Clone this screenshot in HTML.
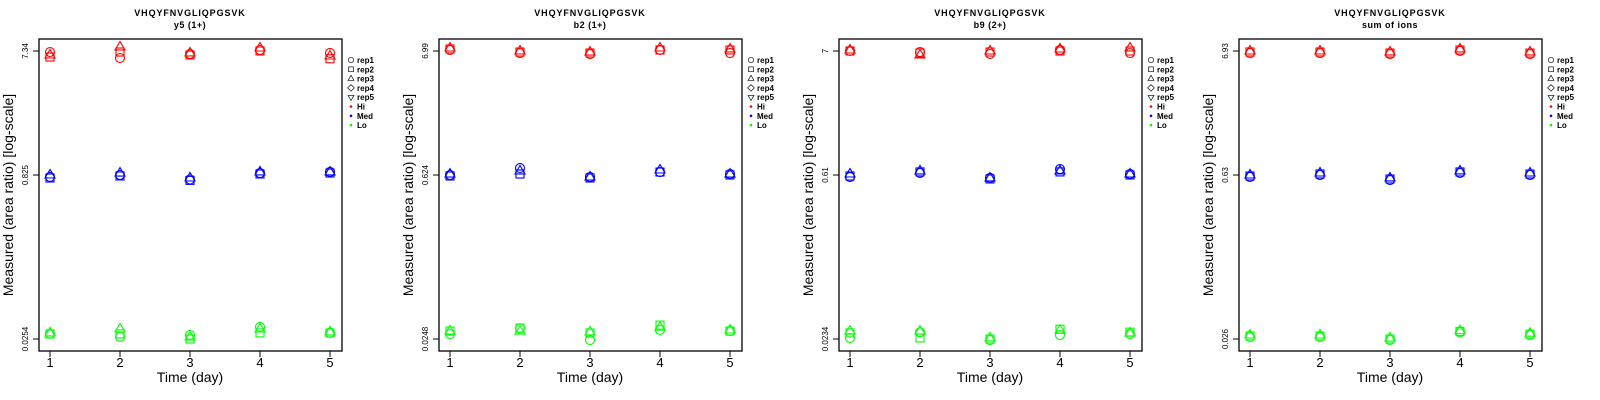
<!DOCTYPE html>
<html><head><meta charset="utf-8"><style>
body{margin:0;background:#fff;}
svg{display:block;font-family:"Liberation Sans",Arial,sans-serif;}
</style></head><body>
<svg id="chart" width="1600" height="400" xmlns="http://www.w3.org/2000/svg"></svg>
<script>
const days = [1,2,3,4,5];
const reps = ["rep1","rep2","rep3","rep4","rep5"];
const levels = ["Hi","Med","Lo"];
const levelColors = ["#ff0000","#0000ff","#00ff00"];
const panelTitles = ["y5 (1+)","b2 (1+)","b9 (2+)","sum of ions"];
const peptide = "VHQYFNVGLIQPGSVK";
const tickValues = [[7.34,0.825,0.0254],[6.99,0.624,0.0248],[7,0.61,0.0234],[6.93,0.63,0.026]];
const tickLabels = [["7.34","0.825","0.0254"],["6.99","0.624","0.0248"],["7","0.61","0.0234"],["6.93","0.63","0.026"]];
// data[panel][level][rep][day]  (rep1, rep2, rep3 measured)
const p1Hi = [[7.21,6.48,6.96,7.47,7.09],[6.60,7.21,6.84,7.34,6.40],[6.84,7.88,7.09,7.74,6.72]];
const p1Med = [[0.791,0.825,0.750,0.854,0.870],[0.774,0.808,0.736,0.840,0.854],[0.825,0.854,0.774,0.870,0.870]];
const p1Lo = [[0.0283,0.0265,0.0277,0.0328,0.0289],[0.0283,0.0283,0.0254,0.0289,0.0289],[0.0289,0.0314,0.0265,0.0314,0.0295]];
const p2Hi = [[7.13,6.72,6.59,7.13,6.72],[7.27,6.85,6.72,7.13,7.13],[7.41,6.99,6.85,7.41,7.27]];
const p2Med = [[0.624,0.714,0.600,0.661,0.636],[0.612,0.636,0.588,0.661,0.624],[0.636,0.675,0.600,0.688,0.636]];
const p2Lo = [[0.0273,0.0307,0.0243,0.0296,0.0290],[0.0290,0.0307,0.0279,0.0326,0.0290],[0.0290,0.0290,0.0285,0.0313,0.0296]];
const p3Hi = [[7.00,6.86,6.60,7.14,6.73],[7.00,6.73,6.86,7.00,7.00],[7.14,6.47,7.00,7.28,7.43]];
const p3Med = [[0.586,0.635,0.575,0.686,0.622],[0.598,0.648,0.564,0.648,0.610],[0.622,0.661,0.575,0.661,0.622]];
const p3Lo = [[0.0239,0.0268,0.0229,0.0253,0.0258],[0.0264,0.0239,0.0234,0.0284,0.0268],[0.0274,0.0274,0.0239,0.0279,0.0264]];
const p4Hi = [[6.66,6.66,6.53,6.93,6.53],[6.80,6.80,6.66,7.07,6.66],[6.93,6.93,6.80,7.21,6.80]];
const p4Med = [[0.606,0.630,0.571,0.655,0.630],[0.618,0.642,0.583,0.668,0.642],[0.630,0.655,0.595,0.681,0.655]];
const p4Lo = [[0.0270,0.0270,0.0255,0.0296,0.0281],[0.0276,0.0276,0.0260,0.0301,0.0286],[0.0281,0.0281,0.0265,0.0306,0.0291]];
const panelData = [[p1Hi,p1Med,p1Lo],[p2Hi,p2Med,p2Lo],[p3Hi,p3Med,p3Lo],[p4Hi,p4Med,p4Lo]];

const NS="http://www.w3.org/2000/svg";
const svg=document.getElementById("chart");
function mk(tag,attrs,parent,text){const e=document.createElementNS(NS,tag);for(const k in attrs)e.setAttribute(k,attrs[k]);if(text!==undefined)e.textContent=text;(parent||svg).appendChild(e);return e;}
const BOX={l:39,r:342,t:39,b:351};
const TICKPX=[51,175,339];
function xScale(d){return 50+(d-1)*70;}
function makeY(tv){
  return function(v){
    const lv=Math.log(v),l0=Math.log(tv[0]),l1=Math.log(tv[1]),l2=Math.log(tv[2]);
    if(lv>=l1) return TICKPX[1]+(lv-l1)/(l0-l1)*(TICKPX[0]-TICKPX[1]);
    return TICKPX[1]+(lv-l1)/(l2-l1)*(TICKPX[2]-TICKPX[1]);
  };
}
function marker(g,shape,x,y,color){
  const s={fill:"none",stroke:color,"stroke-width":1.1};
  let e;
  if(shape===0) e=mk("circle",Object.assign({cx:x,cy:y,r:4.5},s),g);
  else if(shape===1) e=mk("rect",Object.assign({x:x-4,y:y-4,width:8,height:8},s),g);
  else if(shape===2) e=mk("polygon",Object.assign({points:`${x},${y-5.5} ${x-5},${y+3} ${x+5},${y+3}`},s),g);
  else if(shape===3) e=mk("polygon",Object.assign({points:`${x},${y-5.5} ${x+5.5},${y} ${x},${y+5.5} ${x-5.5},${y}`},s),g);
  else e=mk("polygon",Object.assign({points:`${x},${y+5.5} ${x-5},${y-3} ${x+5},${y-3}`},s),g);
  return e;
}
panelTitles.forEach((title,p)=>{
  const g=mk("g",{transform:`translate(${p*400},0)`});
  
  
  const yS=makeY(tickValues[p]);
  let t=mk("text",{x:190,y:16,"text-anchor":"middle","font-size":9,"font-weight":"bold","letter-spacing":"0.9"},g,peptide);
  
  
  t=mk("text",{x:190,y:28,"text-anchor":"middle","font-size":9,"font-weight":"bold","letter-spacing":"0.5"},g,title);
  
  
  const box=mk("rect",{x:BOX.l,y:BOX.t,width:BOX.r-BOX.l,height:BOX.b-BOX.t,fill:"none",stroke:"#000","stroke-width":1.3},g);
  
  
  days.forEach(d=>{
    const x=xScale(d);
    mk("line",{x1:x,x2:x,y1:BOX.b,y2:BOX.b+6,stroke:"#000"},g);
    const tl=mk("text",{x:x,y:367,"text-anchor":"middle","font-size":13},g,String(d));
    
    
  });
  tickValues[p].forEach((v,i)=>{
    const y=yS(v);
    mk("line",{x1:BOX.l-6,x2:BOX.l,y1:y,y2:y,stroke:"#000"},g);
    const tl=mk("text",{x:0,y:0,"text-anchor":"middle","font-size":8,transform:`translate(28,${y}) rotate(-90)`},g,tickLabels[p][i]);
    
    
  });
  const xt=mk("text",{x:190,y:382,"text-anchor":"middle","font-size":14},g,"Time (day)");
  
  
  const yt=mk("text",{x:0,y:0,"text-anchor":"middle","font-size":14,transform:"translate(13,195) rotate(-90)"},g,"Measured (area ratio) [log-scale]");
  
  
  levels.forEach((lv,li)=>{
    panelData[p][li].forEach((row,ri)=>{
      row.forEach((v,di)=>{
        const m=marker(g,ri,xScale(days[di]),yS(v),levelColors[li]);
        
        
      });
    });
  });
  const lg=mk("g",{},g);
  
  
  reps.forEach((r,i)=>{
    const y=60+i*9.3;
    const m=marker(lg,i,351,y,"#000");
    m.setAttribute("transform",`translate(351,${y}) scale(0.6) translate(-351,${-y})`);
    const tx=mk("text",{x:357,y:y+3,"font-size":8,"font-weight":"bold"},lg,r);
    
    
  });
  levels.forEach((l,i)=>{
    const y=60+(5+i)*9.3;
    mk("circle",{cx:351,cy:y,r:1.3,fill:levelColors[i]},lg);
    const tx=mk("text",{x:357,y:y+3,"font-size":8,"font-weight":"bold"},lg,l);
    
    
  });
});
</script>
</body></html>
